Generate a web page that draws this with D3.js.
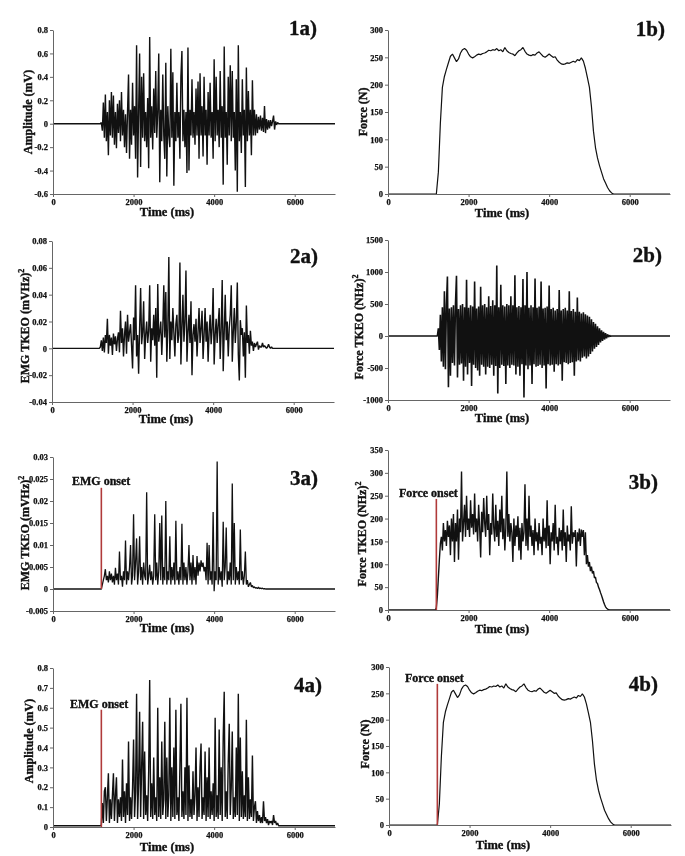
<!DOCTYPE html>
<html>
<head>
<meta charset="utf-8">
<script src="https://cdn.jsdelivr.net/npm/d3@7/dist/d3.min.js"></script>
<style>
  body { margin: 0; background: #fff; }
  svg { display: block; }
  text { font-family: "Liberation Serif", "Times New Roman", serif; font-weight: bold; fill: #111; stroke: #111; stroke-width: 0.35px; }
  .tick text { stroke-width: 0.25px; }
</style>
</head>
<body>
<svg id="fig" width="685" height="856"></svg>
<script>
// ---- data (time in ms) ----
const xTicks = [0, 2000, 4000, 6000];
const timeRange = [0, 7000];

// raw EMG, mV, from 1200 ms every 25 ms
const emgRawStart = 1200, emgRawStep = 25;
const emgRaw = [
  .01,-.06,.18,-.12,.25,-.15,.1,-.27,.2,-.1,
  .27,-.12,.24,-.18,.1,-.21,.17,-.08,.2,-.15,
  .27,-.1,.12,-.2,.08,-.25,.1,.42,-.3,.12,
  -.18,.35,-.1,.15,-.3,.67,-.46,.1,.6,-.37,
  .4,-.12,.43,-.15,.1,-.2,.22,-.38,.74,-.12,
  .15,-.22,.3,-.08,.45,-.12,.1,.6,-.5,.12,
  -.15,.42,-.1,-.3,.52,-.45,.15,-.1,-.2,.64,
  -.12,.44,-.53,.1,-.15,.35,-.12,.1,-.3,.4,
  .62,-.15,.12,-.2,.1,-.42,.65,-.4,.12,-.1,
  .38,-.12,.1,-.18,.3,-.1,.36,-.3,.43,-.1,
  .15,-.28,.4,-.1,.12,-.35,.27,-.1,.35,-.12,
  .1,-.3,.55,-.15,.4,-.1,.12,-.2,.45,-.12,
  .15,-.52,.66,-.12,.1,-.35,.4,-.1,.5,-.15,
  .45,-.12,.1,-.4,.38,-.58,.67,-.15,.1,-.25,
  .38,-.1,.12,-.54,.48,-.15,.28,-.1,.12,-.27,
  .37,-.1,.12,-.1,.08,-.08,.06,-.05,.07,-.06,
  .05,-.07,.15,-.08,.04,-.05,.03,-.04,.03,-.02,
  .02,.07,-.05,.02,-.01,.01
];

// rectified EMG, mV, from 1200 ms every 25 ms (quiet level before/after)
const emgRectStart = 1200, emgRectStep = 25, emgRectQuiet = 0.006;
const emgRect = [
  .01,.12,.02,.18,.2,.03,.15,.27,.02,.14,
  .04,.16,.27,.03,.16,.25,.02,.14,.05,.15,
  .03,.34,.05,.18,.02,.22,.06,.43,.03,.15,
  .04,.2,.44,.05,.18,.67,.04,.22,.58,.05,
  .3,.53,.04,.38,.06,.16,.03,.28,.74,.05,
  .22,.04,.35,.06,.15,.03,.6,.05,.25,.04,
  .43,.06,.14,.53,.04,.35,.05,.16,.65,.03,
  .3,.05,.4,.04,.59,.06,.15,.03,.3,.62,
  .05,.18,.04,.3,.06,.65,.03,.31,.05,.14,
  .04,.28,.06,.16,.4,.03,.2,.05,.3,.42,
  .04,.15,.06,.38,.03,.25,.05,.4,.04,.18,
  .06,.22,.03,.55,.05,.16,.04,.49,.06,.3,
  .03,.45,.68,.05,.18,.04,.33,.52,.06,.2,
  .48,.04,.15,.05,.4,.06,.67,.03,.45,.05,
  .28,.04,.16,.05,.54,.03,.25,.04,.14,.05,
  .36,.03,.1,.13,.02,.08,.03,.06,.02,.05,
  .02,.13,.03,.05,.02,.04,.01,.03,.02,.03,
  .01,.06,.02,.03,.01,.02
];

// force, N, from 1200 ms every 50 ms
const forceStart = 1200, forceStep = 50;
const force = [
  0,40,130,195,215,228,240,252,256,249,
  242,247,258,264,266,263,256,251,249,251,
  254,256,255,257,258,260,263,262,264,263,
  266,262,264,260,268,262,259,257,256,253,
  258,262,264,268,261,256,254,253,255,254,
  258,260,256,252,250,253,256,253,250,251,
  245,241,238,237,238,240,239,241,243,241,
  246,244,249,243,230,213,195,160,115,85,
  66,52,40,28,20,12,6,2,0
];

// EMG TKEO, (mV Hz)^2, from 1200 ms every 25 ms
const emgTkeoStart = 1200, emgTkeoStep = 25;
const emgTkeo = [
  .001,.006,-.002,.008,-.003,.01,.004,.022,-.004,.01,
  .002,.008,-.005,.011,.003,.009,-.002,.007,.012,-.003,
  .028,.004,.015,-.006,.01,.02,-.004,.025,.005,.012,
  .018,.002,-.015,.023,.006,.047,-.006,.01,-.019,.015,
  .045,.003,.012,.035,-.008,.01,.02,.004,.013,.047,
  -.01,.015,.006,.025,.002,.03,-.022,.048,.005,.012,
  .02,-.005,.014,.047,.008,.042,-.01,.015,.068,-.008,
  .02,.006,.03,.012,-.006,.018,.025,.004,.01,.064,
  -.012,.015,.04,.005,.02,.058,-.01,.012,.025,.004,
  .035,-.02,.01,.018,.005,.022,-.006,.012,.03,.004,
  .015,.028,-.008,.01,.03,.005,.02,-.01,.012,.025,
  .003,.015,.045,-.012,.01,.022,.004,.018,.03,-.008,
  .015,.051,-.017,.012,.04,.006,.02,-.006,.015,.025,
  .047,-.01,.012,.03,.004,.02,.049,-.005,-.024,.021,
  .01,.015,-.006,.012,-.022,.032,.004,.01,-.004,.013,
  .002,.005,-.002,.004,.001,.003,.005,-.001,.002,.001,
  .001,.004,.001,.002,.001,0,.001,.003,.001,0,
  .001,0
];

// force TKEO, (N Hz)^2, from 1225 ms every 25 ms
const forceTkeoStart = 1225, forceTkeoStep = 25;
const forceTkeo = [
  0,120,-220,330,-400,450,-480,700,-520,480,
  930,-800,430,-620,450,-420,480,-460,500,940,
  -650,420,-450,480,-430,500,-700,450,-480,880,
  -600,440,-420,480,-780,460,-450,850,-500,430,
  -540,460,-620,770,-450,480,-480,500,-600,450,
  -480,620,-500,470,-450,560,-620,480,-470,1100,
  -900,450,-500,800,-450,480,-470,460,-750,500,
  -460,480,-500,620,-450,480,-460,950,-600,450,
  -480,470,-620,450,-440,890,-960,480,-460,1000,
  -520,440,-460,480,-750,450,-440,900,-480,440,
  -470,460,-450,850,-500,430,-460,440,-820,460,
  -440,790,-460,420,-450,440,-560,400,-440,420,
  -460,720,-440,400,-700,420,-410,440,-420,400,
  -440,700,-420,390,-410,420,-620,380,-400,600,
  -380,380,-400,350,-340,370,-320,340,-350,320,
  -320,300,-280,260,-240,220,-200,190,-170,150,
  -140,120,-100,90,-75,65,-55,45,-35,25,
  -15,10,-5,0
];

// smoothed EMG TKEO used for onset, from 1200 ms every 25 ms
const emgSmoothStart = 1200, emgSmoothStep = 25;
const emgSmooth = [
  0,.001,.002,.003,.0045,.002,.003,.0015,.004,.002,
  .0035,.0015,.003,.001,.0048,.002,.0035,.001,.0085,.002,
  .003,.0005,.004,.002,.011,.001,.004,.002,.005,.01,
  .001,.003,.017,.002,.006,.0115,.001,.004,.012,.002,
  .005,.001,.006,.003,.002,.022,.001,.003,.0055,.002,
  .004,.001,.003,.017,.002,.006,.001,.004,.015,.002,
  .0167,.001,.005,.002,.02,.001,.004,.002,.012,.001,
  .005,.002,.006,.001,.0155,.002,.004,.001,.005,.002,
  .0148,.001,.006,.002,.005,.001,.004,.01,.002,.006,
  .001,.0077,.002,.005,.001,.0075,.003,.006,.004,.0065,
  .005,.006,.004,.005,.002,.0105,.001,.01,.002,.004,
  .001,.0175,-.0005,.004,.002,.029,.001,.005,.002,.004,
  .0005,.0153,.002,.005,.014,.001,.004,.002,.006,.001,
  .024,.002,.015,.001,.005,.002,.004,.001,.0135,.002,
  .004,.001,.003,.0085,.001,.002,.0005,.001,.0015,.0005,
  .0008,.0003,.0005,.0002,.0003,.0001,.0004,.0001,.0002,.0001,
  .0002,0,.0001,0,0
];

// smoothed force TKEO used for onset, from 1200 ms every 25 ms
const forceSmoothStart = 1200, forceSmoothStep = 25;
const forceSmooth = [
  5,30,70,110,145,160,130,190,150,175,
  140,195,160,185,120,200,150,210,105,190,
  150,220,110,200,170,303,150,190,230,160,
  250,175,200,160,240,180,210,165,255,170,
  200,150,230,180,115,215,170,245,190,160,
  250,175,210,120,190,165,255,180,150,230,
  160,195,140,220,170,250,155,200,130,180,
  303,160,210,150,190,170,105,200,140,185,
  160,205,130,180,110,190,150,170,275,140,
  200,130,250,160,185,140,175,120,200,150,
  170,130,190,145,160,120,200,150,180,135,
  240,140,185,100,170,150,190,130,230,145,
  160,120,180,150,175,130,220,140,170,105,
  185,150,165,130,227,145,170,160,175,95,
  170,150,178,140,176,160,175,120,170,100,
  120,95,105,85,95,80,85,70,72,60,
  58,50,45,38,32,25,18,12,7,4,
  2,1,0,0,0,0
];

// detected onsets: time (ms) and drawn marker height (data units)
const emgOnsetMs = 1200, forceOnsetMs = 1200;
const onsetHeights = { '3a': 0.023, '3b': 243, '4a': 0.59, '4b': 268 };

// y tick labels
const ampTicks = [-0.6, -0.4, -0.2, 0, 0.2, 0.4, 0.6, 0.8];
const forceTicks = [0, 50, 100, 150, 200, 250, 300];
const emgTkeoTicks = [-0.04, -0.02, 0, 0.02, 0.04, 0.06, 0.08];
const forceTkeoTicks = [-1000, -500, 0, 500, 1000, 1500];
const emgSmoothTicks = [-0.005, 0, 0.005, 0.01, 0.015, 0.02, 0.025, 0.03];
const forceSmoothTicks = [0, 50, 100, 150, 200, 250, 300, 350];
const rectTicks = [0, 0.1, 0.2, 0.3, 0.4, 0.5, 0.6, 0.7, 0.8];

// ---- helpers ----
function toPoints(start, step, vals, quiet) {
  const q = quiet || 0;
  const pts = [[timeRange[0], q], [start - step, q]];
  vals.forEach((v, i) => pts.push([start + i * step, v]));
  pts.push([start + vals.length * step, q], [timeRange[1], q]);
  return pts;
}

const svg = d3.select('#fig');
// grey-only text smoothing (no coloured fringes on small labels)
svg.append('defs').append('filter').attr('id', 'gray')
  .append('feColorMatrix').attr('type', 'saturate').attr('values', 0);
const plotW = 282;

const panels = [
  { key: '1a', x0: 53, top: 30, bottom: 194, yDom: [-0.6, 0.8], ticks: ampTicks, sw: 1.4,
    pts: toPoints(emgRawStart, emgRawStep, emgRaw),
    ytitle: ['Amplitude (mV)'], ytx: 28, yty: 112, xty: 216, lab: [317, 35] },
  { key: '1b', x0: 388, top: 30, bottom: 194, yDom: [0, 300], ticks: forceTicks, sw: 1.2,
    pts: toPoints(forceStart, forceStep, force),
    ytitle: ['Force (N)'], ytx: 363, yty: 112, xty: 217, lab: [665, 36] },
  { key: '2a', x0: 52, top: 241, bottom: 402, yDom: [-0.04, 0.08], ticks: emgTkeoTicks, sw: 1.4,
    pts: toPoints(emgTkeoStart, emgTkeoStep, emgTkeo),
    ytitle: ['EMG TKEO (mVHz)', '2'], ytx: 25, yty: 326, xty: 423, lab: [318, 263] },
  { key: '2b', x0: 388, top: 240, bottom: 400, yDom: [-1000, 1500], ticks: forceTkeoTicks, sw: 1.6,
    pts: toPoints(forceTkeoStart, forceTkeoStep, forceTkeo),
    ytitle: ['Force TKEO (NHz)', '2'], ytx: 359, yty: 327, xty: 422, lab: [662, 262] },
  { key: '3a', x0: 53, top: 457, bottom: 611, yDom: [-0.005, 0.03], ticks: emgSmoothTicks, sw: 1.3,
    pts: toPoints(emgSmoothStart, emgSmoothStep, emgSmooth),
    ytitle: ['EMG TKEO (mVHz)', '2'], ytx: 25, yty: 533, xty: 632, lab: [318, 485],
    onset: emgOnsetMs, onLab: ['EMG onset', 72, 485] },
  { key: '3b', x0: 388, top: 450, bottom: 610, yDom: [0, 350], ticks: forceSmoothTicks, sw: 1.4,
    pts: toPoints(forceSmoothStart, forceSmoothStep, forceSmooth),
    ytitle: ['Force TKEO (NHz)', '2'], ytx: 362, yty: 534, xty: 633, lab: [658, 489],
    onset: forceOnsetMs, onLab: ['Force onset', 399, 497] },
  { key: '4a', x0: 53, top: 668, bottom: 827, yDom: [0, 0.8], ticks: rectTicks, sw: 1.4,
    pts: toPoints(emgRectStart, emgRectStep, emgRect, emgRectQuiet),
    ytitle: ['Amplitude (mV)'], ytx: 29, yty: 741, xty: 851, lab: [322, 692],
    onset: emgOnsetMs, onLab: ['EMG onset', 70, 708] },
  { key: '4b', x0: 389, top: 667, bottom: 825, yDom: [0, 300], ticks: forceTicks, sw: 1.2,
    pts: toPoints(forceStart, forceStep, force),
    ytitle: ['Force (N)'], ytx: 365, yty: 744, xty: 849, lab: [658, 691],
    onset: forceOnsetMs, onLab: ['Force onset', 405, 682] }
];

const fmt = d => d === 0 ? '0' : String(+d.toFixed(4));

panels.forEach(p => {
  const x = d3.scaleLinear().domain(timeRange).range([p.x0, p.x0 + plotW]);
  const y = d3.scaleLinear().domain(p.yDom).range([p.bottom, p.top]);
  const g = svg.append('g').attr('class', 'panel-' + p.key);

  // signal
  const line = d3.line().x(d => x(d[0])).y(d => y(d[1]));
  g.append('path')
    .attr('d', line(p.pts))
    .attr('fill', 'none')
    .attr('stroke', '#111')
    .attr('stroke-width', p.sw)
    .attr('stroke-linejoin', 'bevel');

  // axes
  const ay = g.append('g').attr('transform', `translate(${p.x0},0)`).attr('filter', 'url(#gray)')
    .call(d3.axisLeft(y).tickValues(p.ticks).tickSize(3).tickSizeOuter(0).tickPadding(2).tickFormat(fmt));
  const ax = g.append('g').attr('transform', `translate(0,${p.bottom})`).attr('filter', 'url(#gray)')
    .call(d3.axisBottom(x).tickValues(xTicks).tickSize(3).tickSizeOuter(0).tickPadding(2).tickFormat(d3.format('d')));
  [ax, ay].forEach(a => {
    a.selectAll('path, line').attr('stroke', '#666');
    a.selectAll('text').style('font-size', '8.5px').style('font-family', '"Liberation Serif", serif')
      .style('font-weight', 'bold').attr('fill', '#111');
  });

  // onset marker
  const tg = g.append('g').attr('filter', 'url(#gray)');
  if (p.onset !== undefined) {
    g.append('line')
      .attr('x1', x(p.onset)).attr('x2', x(p.onset))
      .attr('y1', y(0)).attr('y2', y(onsetHeights[p.key]))
      .attr('stroke', '#b03a3a').attr('stroke-width', 1.6);
    tg.append('text').attr('x', p.onLab[1]).attr('y', p.onLab[2])
      .style('font-size', '12px').text(p.onLab[0]);
  }

  // titles
  tg.append('text').attr('x', p.x0 + 114).attr('y', p.xty)
    .attr('text-anchor', 'middle').style('font-size', '12.5px').text('Time (ms)');
  const yt = tg.append('text')
    .attr('transform', `translate(${p.ytx},${p.yty}) rotate(-90)`)
    .attr('text-anchor', 'middle').attr('dy', '0.35em').style('font-size', '12px');
  yt.append('tspan').text(p.ytitle[0]);
  if (p.ytitle[1]) yt.append('tspan').attr('dy', '-5').style('font-size', '8px').text(p.ytitle[1]);

  tg.append('text').attr('x', p.lab[0]).attr('y', p.lab[1])
    .attr('text-anchor', 'end').style('font-size', '21px').text(p.key + ')');
});
</script>
</body>
</html>
